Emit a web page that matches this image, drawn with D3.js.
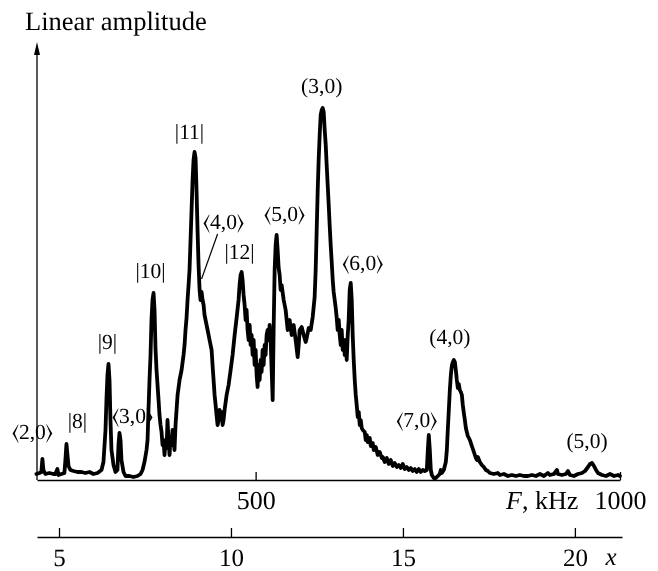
<!DOCTYPE html>
<html>
<head>
<meta charset="utf-8">
<script src="https://cdn.jsdelivr.net/npm/d3@7"></script>
<style>
  html, body { margin: 0; padding: 0; background: #fff; }
  #chart { will-change: transform; transform: translateZ(0); }
  svg { display: block; }
  text { -webkit-font-smoothing: antialiased; text-rendering: geometricPrecision; }
</style>
</head>
<body>
<div id="chart"></div>
<script>
// Spectrum: frequency F (kHz) and linear amplitude (arbitrary units)
const freqKHz = [
  199.2,203.3,206.0,207.4,208.8,211.5,217.0,222.5,225.2,228.0,229.4,233.5,237.6,239.0,240.4,241.8,243.2,245.9,250.0,255.5,
  261.0,266.5,272.0,277.5,283.0,288.5,291.2,294.0,295.3,296.7,298.1,299.5,300.8,302.2,305.0,307.7,310.4,311.8,313.2,314.6,
  315.9,318.7,321.4,326.9,332.4,337.9,342.1,344.8,347.5,350.3,351.7,353.0,354.4,355.8,357.1,358.5,359.9,361.3,362.6,364.0,
  365.4,366.8,368.1,369.5,370.9,372.3,373.6,375.0,376.4,377.8,379.1,380.5,381.9,383.2,384.6,386.0,387.4,388.7,390.1,391.5,
  392.9,394.2,395.6,398.4,401.1,402.5,403.8,405.2,406.6,408.0,409.3,410.7,412.1,413.5,414.8,416.2,417.6,418.9,420.3,421.7,
  423.1,424.4,425.8,427.2,428.6,429.9,431.3,434.1,436.8,439.6,440.9,442.3,443.7,445.1,446.4,447.8,449.2,450.5,451.9,453.3,
  454.7,456.0,457.4,460.2,462.9,465.7,468.4,471.2,473.9,476.6,478.0,479.4,480.8,482.1,483.5,484.9,486.3,487.6,489.0,490.4,
  491.8,493.1,494.5,495.9,497.3,498.6,500.0,501.4,502.7,504.1,505.5,506.9,508.2,509.6,511.0,512.4,513.7,515.1,516.5,517.9,
  519.2,520.6,522.0,523.4,524.7,526.1,527.5,528.8,530.2,531.6,533.0,534.3,535.7,538.5,541.2,544.0,546.7,549.5,552.2,554.9,
  557.7,559.1,560.4,563.2,565.9,568.7,570.1,572.8,575.6,578.3,581.0,582.4,583.8,585.2,586.5,587.9,589.3,590.7,592.0,593.4,
  594.8,596.2,597.5,598.9,600.3,601.6,603.0,604.4,605.8,607.1,608.5,609.9,611.3,612.6,614.0,615.4,616.8,618.1,619.5,620.9,
  622.3,623.6,625.0,626.4,627.7,629.1,630.5,631.9,633.2,634.6,636.0,637.4,638.7,640.1,641.5,642.9,644.2,645.6,647.0,649.7,
  651.1,652.5,653.8,656.6,658.0,660.7,662.1,664.8,667.6,670.3,673.1,674.5,677.2,680.0,682.7,685.4,688.2,690.9,693.7,696.4,
  699.2,701.9,704.7,707.4,710.2,712.9,715.6,718.4,721.1,723.9,726.6,729.4,732.1,734.9,736.3,737.6,739.0,740.4,741.8,744.5,
  747.3,750.0,752.7,754.1,755.5,758.2,761.0,762.4,763.7,765.1,766.5,767.9,769.2,770.6,772.0,773.4,774.7,776.1,777.5,778.8,
  780.2,781.6,783.0,784.3,785.7,787.1,788.5,789.8,791.2,792.6,794.0,796.7,799.5,802.2,803.6,804.9,807.7,810.4,813.2,815.9,
  818.7,821.4,826.9,832.4,835.2,840.7,846.2,851.7,857.1,862.6,868.1,873.6,879.1,884.6,890.1,895.6,901.1,903.8,909.3,913.5,
  914.8,920.3,925.8,928.6,931.3,936.8,942.3,947.8,952.0,956.1,958.8,961.6,964.3,967.1,969.8,975.3,980.8,986.3,991.8,997.3,
  1000
];
const amplitude = [
  1.5,1.75,2,5.25,2.5,1.5,1.75,1.5,1.5,2.75,1.25,1.5,1.75,5,9,6.25,3.5,2.5,2.25,2,
  2,1.75,2,1.5,1.75,2.5,4.5,12.5,20,26.25,29,25,15,7.5,3.75,2,2.5,8.75,11.75,10,
  5,2,1,1,0.75,1,1.5,2.5,4.5,7.5,10,17.5,25,31.25,40,45,46.75,42.5,33,27.5,
  23.75,20,16.25,13.75,12,8.75,10,6.25,10,8,15,10,6.25,10.5,8.75,12.5,10,7.5,13.75,17.5,
  21.25,23,25,27.5,31.25,33.75,37.5,40.5,45,48.75,52.5,60,67.5,75,80,82,80.5,72.5,62.5,53.75,
  47.5,45,47,45,43.75,41.25,40,37.5,35,32.5,28.75,25,21.25,18.75,16.25,13.75,15,17.5,15.5,17,
  13.75,15,17.5,21.25,23.75,27.5,31.25,36.25,40.5,45,48.75,51.25,52,50,46.25,43.75,40,42.5,37.5,35,
  38.75,33.75,36.25,31.25,35,28.75,32.5,26.25,23.25,28.75,25,30,27,32.5,28.75,33.75,31.25,36.25,37.5,35,
  38.75,35,27.5,20,37.5,52.5,58.75,61.25,57.5,53,51.25,47.5,48.75,45,42.5,37.5,40,36.25,38.75,35,
  30.75,33.75,37.5,38.25,36.25,34.5,35.5,38,37.5,40.75,45.75,52.5,62.5,72.5,80,86.25,91.25,92.5,93,92,
  87.5,83.75,78.75,73.75,68.75,63.75,58.75,54.5,50,47,45,43,40.5,37.5,40,36.25,33.75,37.5,32.5,35,
  31.25,35,30,36.25,40,47.5,49.25,45,36.25,30,25,21.25,18.75,15.75,17,13.75,15,13,12.5,12,
  10,11.25,9.5,10.5,8.5,9.25,7.5,8.25,6.25,7,5.5,5.75,4.5,5.5,4,5,3.5,4.25,3.25,3.75,
  3,4,2.75,3.25,2.5,3,2.25,2.75,2,2.75,2,2.5,2.25,2.5,7.5,11.25,7.5,2.5,1.25,0.5,
  0.5,1,1.5,2.5,1.75,2.5,4.5,7.5,12.5,17.5,22.5,26.25,28.5,29.5,30,29.5,27.5,25,23,24,
  22.5,22,21.25,18.75,16.75,15,13,12,11,10.5,10,8.5,7,5.5,5,5.75,4.5,3.75,3.25,2.5,
  2.25,1.75,1.5,1.75,1.25,1.5,1,1.25,1,1.25,1,1,1.25,1,1.5,1,1.75,1.25,1.5,2.5,
  1.5,1.25,1.5,2.25,1.25,1,1.5,1.75,2.25,3.25,4,4.25,3.5,2.5,1.75,1.25,1,1.5,1,1.25,
  1
];

// Peak annotations: label, anchor F (kHz), anchor amplitude
const peakLabels = ["\u27E82,0\u27E9","|8|","|9|","\u27E83,0\u27E9","|10|","|11|","\u27E84,0\u27E9","|12|","\u27E85,0\u27E9","(3,0)","\u27E86,0\u27E9","\u27E87,0\u27E9","(4,0)","(5,0)"];
const peakLabelF = [193.7,255.5,296.7,331.0,355.8,409.3,456.0,478.0,539.8,590.7,647.0,721.1,766.5,954.7];
const peakLabelAmp = [10.25,13,32.75,14.25,50.5,85.25,62.75,55.25,64.75,96.75,52.5,13.25,34,8];

// Axis ticks
const fTicks = [500, 1000];
const xTicks = [5, 10, 15, 20];

const SERIF = "'Liberation Serif', 'LiberationSerif', Tinos, 'Nimbus Roman', 'Nimbus Roman No9 L', FreeSerif, 'Noto Serif', 'DejaVu Serif', 'Times New Roman', Times, serif";

const W = 658, H = 571;
const svg = d3.select("#chart").append("svg").attr("width", W).attr("height", H)
  .style("font-family", SERIF);

const xF = d3.scaleLinear().domain([200, 1000]).range([37, 620]);
const yA = d3.scaleLinear().domain([0, 100]).range([480, 80]);
const xX = d3.scaleLinear().domain([4.36, 21.37]).range([37, 622]);

// Y axis with arrow
svg.append("line").attr("x1", 37).attr("x2", 37).attr("y1", yA(0)).attr("y2", 50)
  .attr("stroke", "#000").attr("stroke-width", 1.3);
svg.append("path").attr("d", "M37,42 L34,55 L40,55 Z").attr("fill", "#000");
svg.append("text").attr("x", 25).attr("y", 30).style("font-family", SERIF).attr("font-size", 26.5).text("Linear amplitude");

// F axis
const fAxis = d3.axisBottom(xF).tickValues(fTicks).tickSizeInner(-8).tickSizeOuter(0).tickPadding(10.5)
  .tickFormat(d3.format("d"));
const gF = svg.append("g").attr("transform", `translate(0,${yA(0)})`).call(fAxis);
gF.attr("font-family", null).style("font-family", SERIF);
gF.selectAll("path,line").attr("stroke", "#000").attr("stroke-width", 1.3);
gF.selectAll("text").attr("font-size", 26).attr("fill", "#000").style("font-family", SERIF);
const fl = svg.append("text").attr("x", 506).attr("y", 509).attr("font-size", 26).style("font-family", SERIF);
fl.append("tspan").attr("font-style", "italic").text("F");
fl.append("tspan").text(", kHz");

// x axis (second scale)
const xAxis = d3.axisBottom(xX).tickValues(xTicks).tickSizeInner(-9).tickSizeOuter(0).tickPadding(11)
  .tickFormat(d3.format("d"));
const gX = svg.append("g").attr("transform", "translate(0,537)").call(xAxis);
gX.attr("font-family", null).style("font-family", SERIF);
gX.selectAll("path,line").attr("stroke", "#000").attr("stroke-width", 1.3);
gX.selectAll("text").attr("font-size", 25).attr("fill", "#000").style("font-family", SERIF);
svg.append("text").attr("x", 611).attr("y", 565).attr("text-anchor", "middle").style("font-family", SERIF)
  .attr("font-size", 25).attr("font-style", "italic").text("x");

// Spectrum line
const pts = freqKHz.map((f, i) => [f, amplitude[i]]);
const line = d3.line().x(d => xF(d[0])).y(d => yA(d[1]));
svg.append("path").datum(pts).attr("d", line)
  .attr("fill", "none").attr("stroke", "#000").attr("stroke-width", 3.8)
  .attr("stroke-linejoin", "round").attr("stroke-linecap", "round");

// Leader line for <4,0>
svg.append("line")
  .attr("x1", xF(447.8)).attr("y1", yA(61.5))
  .attr("x2", xF(425.8)).attr("y2", yA(50.25))
  .attr("stroke", "#000").attr("stroke-width", 1.2);

// Peak labels
svg.append("g").selectAll("text").data(peakLabels).join("text")
  .attr("x", (d, i) => xF(peakLabelF[i]))
  .attr("y", (d, i) => yA(peakLabelAmp[i]))
  .attr("text-anchor", "middle")
  .style("font-family", SERIF)
  .attr("font-size", 21.5)
  .text(d => d);
</script>
</body>
</html>
